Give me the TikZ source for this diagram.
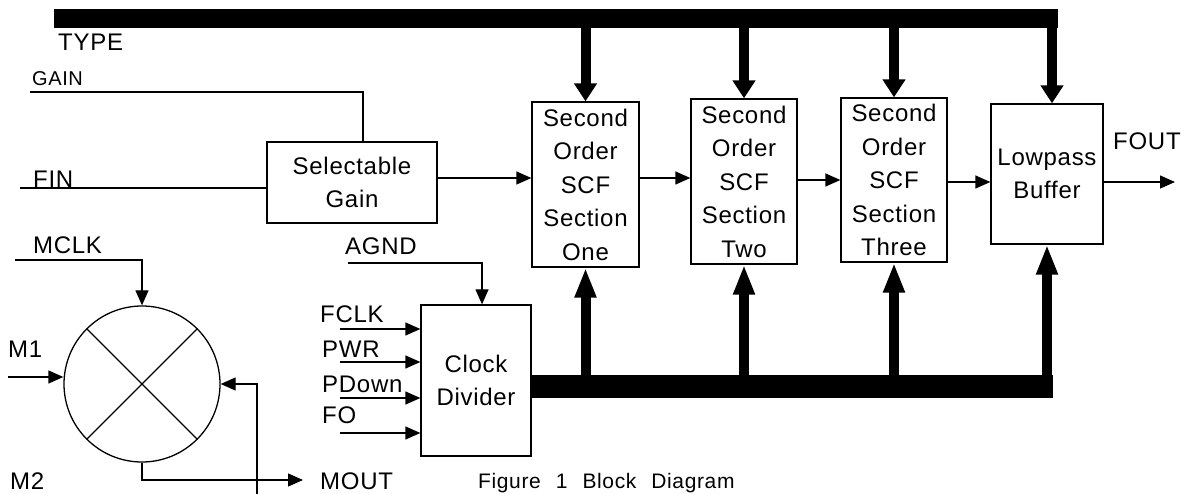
\documentclass[tikz,border=0pt]{standalone}
\usepackage{fontspec}
\setmainfont{Liberation Sans}[LetterSpace=3]
\usetikzlibrary{arrows.meta}

\newcommand\lblfont{\fontsize{24}{28}\selectfont}
\newcommand\gainfont{\fontsize{20}{24}\selectfont}
\newcommand\boxfont{\fontsize{24}{33.5}\selectfont}
\newcommand\capfont{\fontsize{21}{25}\selectfont}

\tikzset{
  blk/.style={draw, line width=1.3pt, align=center, inner sep=0pt, font=\boxfont},
  bus/.style={fill=black, inner sep=0pt},
  wire/.style={line width=1.3pt},
  sig/.style={wire, -{Triangle[length=15pt,width=13pt]}},
  busdown/.style={line width=10pt, -{Triangle[length=18pt,width=22pt]}},
  busup/.style={line width=10pt, -{Triangle[length=30pt,width=20pt]}},
  lbl/.style={anchor=base west, inner sep=0pt, font=\lblfont},
}

\begin{document}
\begin{tikzpicture}[x=1pt,y=-1pt]
  \useasboundingbox (0,0) rectangle (1183,494);
  % buses
  \node[bus, minimum width=1004pt, minimum height=19pt] (topbus) at (556,18.5) {};
  \node[bus, minimum width=522pt, minimum height=23pt] (botbus) at (792,386.5) {};
  % blocks
  \node[blk, minimum width=170pt, minimum height=81pt] (gain) at (352,182.5) {Selectable\\Gain};
  \node[blk, minimum width=107pt, minimum height=165pt] (one) at (585.5,184.5) {Second\\Order\\SCF\\Section\\One};
  \node[blk, minimum width=106pt, minimum height=165pt] (two) at (744,181.5) {Second\\Order\\SCF\\Section\\Two};
  \node[blk, minimum width=106pt, minimum height=164pt] (three) at (894,180) {Second\\Order\\SCF\\Section\\Three};
  \node[blk, minimum width=112pt, minimum height=140pt] (lp) at (1047,174) {Lowpass\\Buffer};
  \node[blk, minimum width=110pt, minimum height=151pt] (clk) at (476,380.5) {Clock\\Divider};
  \node[draw, circle, line width=1.3pt, minimum size=156pt, inner sep=0pt] (mix) at (142,384) {};
  \draw[wire] (mix.45) -- (mix.225) (mix.135) -- (mix.315);
  % labels
  \node[lbl] (type) at (58,51) {TYPE};
  \node[lbl, font=\gainfont] (gainlbl) at (32,86) {GAIN};
  \node[lbl] (fin) at (33,188) {FIN};
  \node[lbl] (mclk) at (33,254) {MCLK};
  \node[lbl] (m1) at (8,357) {M1};
  \node[lbl] (m2) at (10,489) {M2};
  \node[lbl] (mout) at (320,489) {MOUT};
  \node[lbl] (agnd) at (345,255) {AGND};
  \node[lbl] (fclk) at (320,323) {FCLK};
  \node[lbl] (pwr) at (322,357) {PWR};
  \node[lbl] (pdown) at (322,392) {PDown};
  \node[lbl] (fo) at (322,423) {FO};
  \node[lbl] (fout) at (1113,150) {FOUT};
  \node[lbl, font=\capfont] (caption) at (478,488) {Figure\hspace{15pt}1\hspace{15pt}Block\hspace{15pt}Diagram};
  % inputs to the gain stage
  \coordinate (gainin) at (30,92);
  \coordinate (gaintop) at ([xshift=11pt]gain.north);
  \draw[wire] (gainin) -| (gaintop);
  \coordinate (finin) at (20,188);
  \draw[wire] (finin) -- (finin -| gain.west);
  % signal chain
  \draw[sig] (gain.east |- 0,178) -- (one.west |- 0,178);
  \draw[sig] (one.east |- 0,178) -- (two.west |- 0,178);
  \draw[sig] (two.east |- 0,180) -- (three.west |- 0,180);
  \draw[sig] (three.east |- 0,182) -- (lp.west |- 0,182);
  \coordinate (foutend) at (1175,182);
  \draw[sig] (lp.east |- foutend) -- (foutend);
  % TYPE bus down to the sections
  \coordinate (lptop) at ([xshift=5pt]lp.north);
  \draw[busdown] (one.north |- topbus.center) -- (one.north);
  \draw[busdown] (two.north |- topbus.center) -- (two.north);
  \draw[busdown] (three.north |- topbus.center) -- (three.north);
  \draw[busdown] (lptop |- topbus.center) -- (lptop);
  % clock bus up to the sections
  \draw[busup] (one.south |- botbus.center) -- (one.south);
  \draw[busup] (two.south |- botbus.center) -- (two.south);
  \draw[busup] (three.south |- botbus.center) -- (three.south);
  \draw[busup] (lp.south |- botbus.center) -- (lp.south);
  % clock divider inputs
  \coordinate (agndin) at (348,263);
  \coordinate (clktop) at ([xshift=6pt]clk.north);
  \draw[sig] (agndin) -| (clktop);
  \coordinate (fclkin) at (340,329);
  \draw[sig] (fclkin) -- (fclkin -| clk.west);
  \coordinate (pwrin) at (340,362);
  \draw[sig] (pwrin) -- (pwrin -| clk.west);
  \coordinate (pdownin) at (340,398);
  \draw[sig] (pdownin) -- (pdownin -| clk.west);
  \coordinate (foin) at (340,433);
  \draw[sig] (foin) -- (foin -| clk.west);
  % mixer
  \coordinate (mclkin) at (15,260);
  \draw[sig] (mclkin) -| (mix.north);
  \coordinate (m1in) at (8,377);
  \draw[sig] (m1in) -- (m1in -| mix.west);
  \coordinate (m2in) at (257,494);
  \draw[sig] (m2in) |- (mix.east);
  \coordinate (moutend) at (303,480);
  \draw[sig] (mix.south) |- (moutend);
\end{tikzpicture}
\end{document}
